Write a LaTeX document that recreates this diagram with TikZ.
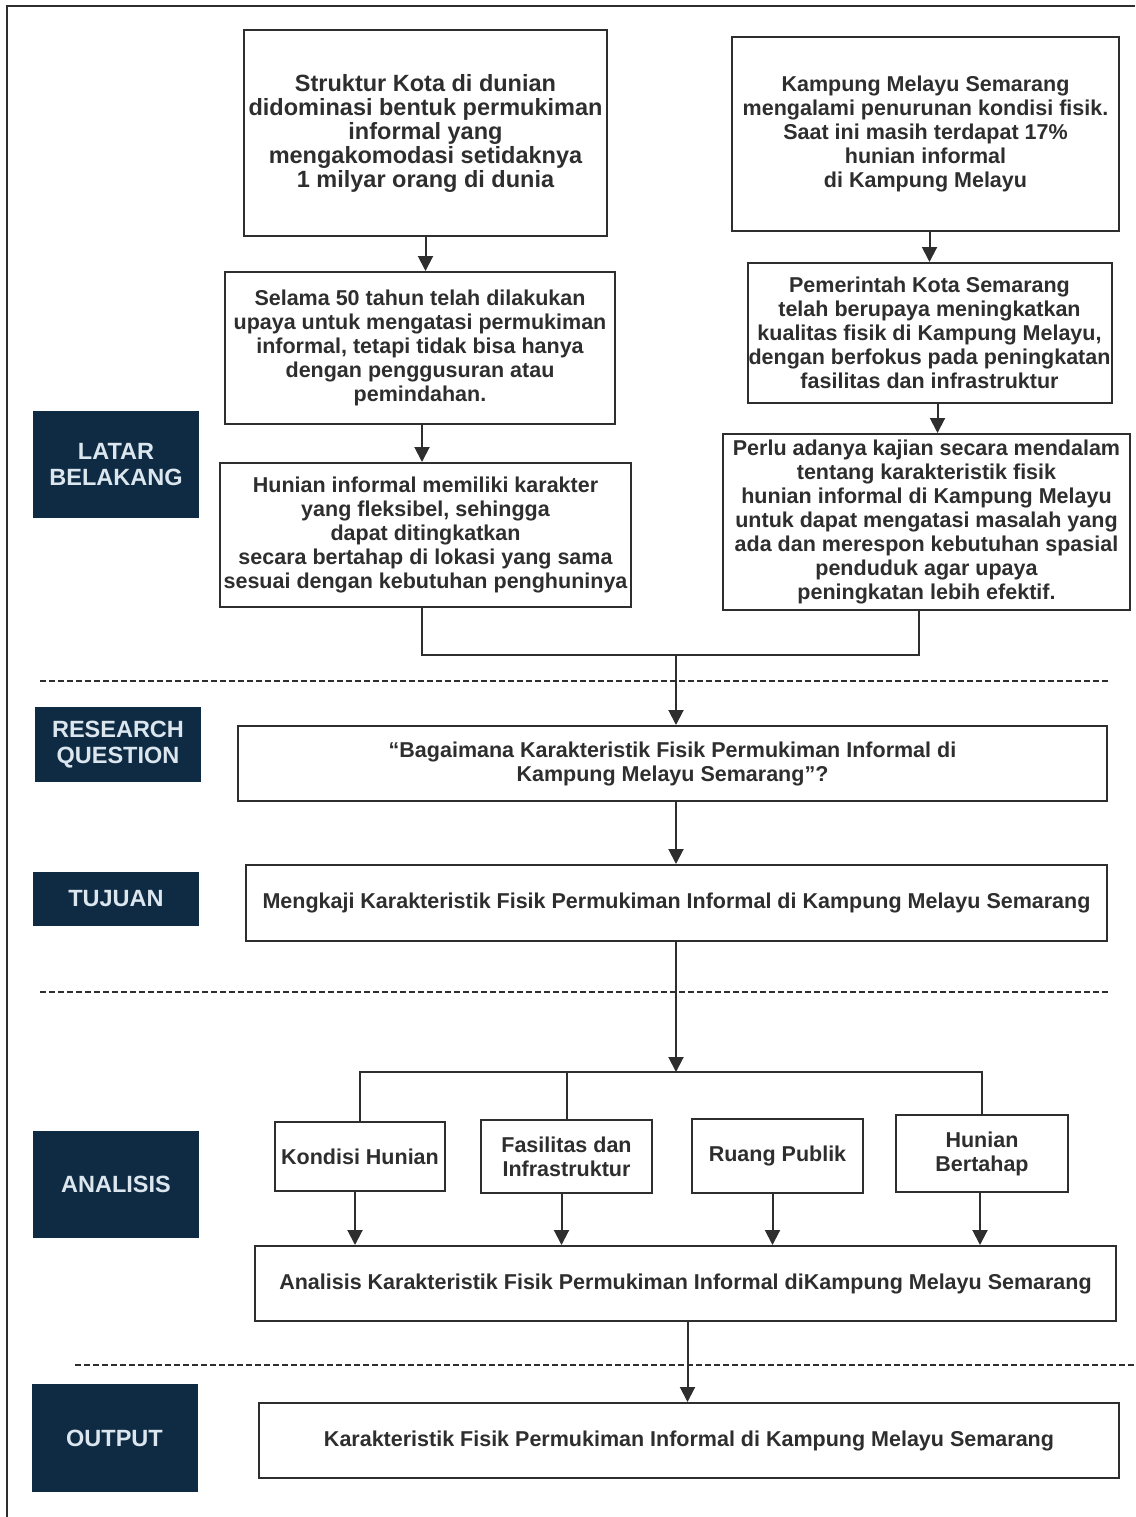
\documentclass[tikz,border=0pt]{standalone}
\usepackage{fontspec}
\setmainfont{Liberation Sans}
\usetikzlibrary{arrows.meta}

\definecolor{navy}{HTML}{0E2B43}
\definecolor{pale}{HTML}{DCE6EE}
\definecolor{ink}{HTML}{2E2E2E}

\begin{document}
\begin{tikzpicture}[x=1pt, y=-1pt, >={Triangle[length=15pt, width=15pt]}, line width=2pt,
  box/.style={draw=ink, line width=2pt, text=ink, align=center, inner sep=1pt,
    font=\bfseries\fontsize{21.5}{24}\selectfont},
  tag/.style={fill=navy, text=pale, align=center, minimum width=166pt,
    font=\bfseries\fontsize{23.5}{26}\selectfont},
  sep/.style={ink, line width=2pt, dash pattern=on 6pt off 3pt},
  link/.style={ink, line width=2pt}]
  \useasboundingbox (0,0) rectangle (1135,1517);
  % bingkai luar (terpotong)
  \draw[ink, line width=2pt] (7,1517) -- (7,6) -- (1135,6);

  % latar belakang
  \node[box, minimum width=363pt, minimum height=206pt, font=\bfseries\fontsize{23.5}{24}\selectfont] (kota) at (425.5,133)
    {Struktur Kota di dunian\\didominasi bentuk permukiman\\informal yang\\mengakomodasi setidaknya\\1 milyar orang di dunia};
  \node[box, minimum width=387pt, minimum height=194pt] (kampung) at (925.5,134)
    {Kampung Melayu Semarang\\mengalami penurunan kondisi fisik.\\Saat ini masih terdapat 17\%\\hunian informal\\di Kampung Melayu};
  \node[box, minimum width=390pt, minimum height=152pt] (upaya) at (420,348)
    {Selama 50 tahun telah dilakukan\\upaya untuk mengatasi permukiman\\informal, tetapi tidak bisa hanya\\dengan penggusuran atau\\pemindahan.};
  \node[box, minimum width=363pt, minimum height=140pt] (pemkot) at (929.5,333)
    {Pemerintah Kota Semarang\\telah berupaya meningkatkan\\kualitas fisik di Kampung Melayu,\\dengan berfokus pada peningkatan\\fasilitas dan infrastruktur};
  \node[box, minimum width=411pt, minimum height=144pt] (fleksibel) at (425.5,535)
    {Hunian informal memiliki karakter\\yang fleksibel, sehingga\\dapat ditingkatkan\\secara bertahap di lokasi yang sama\\sesuai dengan kebutuhan penghuninya};
  \node[box, minimum width=407pt, minimum height=176pt] (kajian) at (926.5,522)
    {Perlu adanya kajian secara mendalam\\tentang karakteristik fisik\\hunian informal di Kampung Melayu\\untuk dapat mengatasi masalah yang\\ada dan merespon kebutuhan spasial\\penduduk agar upaya\\peningkatan lebih efektif.};
  \draw[link, ->] (kota.south) -- (kota.south |- upaya.north);
  \draw[link, ->] (pemkot.north |- kampung.south) -- (pemkot.north);
  \draw[link, ->] ([xshift=2pt]upaya.south) -- ([xshift=2pt]upaya.south |- fleksibel.north);
  \draw[link, ->] ([xshift=8pt]pemkot.south) -- ([xshift=8pt]pemkot.south |- kajian.north);
  \coordinate (gabung) at (676,655);
  \draw[link] ([xshift=-4pt]fleksibel.south) |- (gabung) -| ([xshift=-8pt]kajian.south);

  % pertanyaan dan tujuan
  \node[box, minimum width=869pt, minimum height=75pt] (tanya) at (672.5,763.5)
    {``Bagaimana Karakteristik Fisik Permukiman Informal di\\Kampung Melayu Semarang''?};
  \node[box, minimum width=861pt, minimum height=76pt] (tujuan) at (676.5,903)
    {Mengkaji Karakteristik Fisik Permukiman Informal di Kampung Melayu Semarang};
  \draw[link, ->] (gabung) -- (gabung |- tanya.north);
  \draw[link, ->] (gabung |- tanya.south) -- (gabung |- tujuan.north);

  % analisis
  \coordinate (cabang) at (676,1072);
  \node[box, minimum width=170pt, minimum height=69pt] (kondisi) at (360,1156.5) {Kondisi Hunian};
  \node[box, minimum width=171pt, minimum height=73pt] (fasilitas) at (566.5,1156.5) {Fasilitas dan\\Infrastruktur};
  \node[box, minimum width=171pt, minimum height=74pt] (ruang) at (777.5,1156) {Ruang Publik};
  \node[box, minimum width=172pt, minimum height=77pt] (bertahap) at (982,1153.5) {Hunian\\Bertahap};
  \node[box, minimum width=861pt, minimum height=75pt] (analisis) at (685.5,1283.5)
    {Analisis Karakteristik Fisik Permukiman Informal diKampung Melayu Semarang};
  \draw[link, ->] (cabang |- tujuan.south) -- (cabang);
  \draw[link] (kondisi.north) |- (cabang) -| (bertahap.north);
  \draw[link] (fasilitas.north) -- (fasilitas.north |- cabang);
  \foreach \n in {kondisi, fasilitas, ruang}
    \draw[link, ->] ([xshift=-5pt]\n.south) -- ([xshift=-5pt]\n.south |- analisis.north);
  \draw[link, ->] ([xshift=-2pt]bertahap.south) -- ([xshift=-2pt]bertahap.south |- analisis.north);

  % output
  \node[box, minimum width=860pt, minimum height=75pt] (hasil) at (689,1440.5)
    {Karakteristik Fisik Permukiman Informal di Kampung Melayu Semarang};
  \draw[link, ->] ([xshift=2pt]analisis.south) -- ([xshift=2pt]analisis.south |- hasil.north);

  % label kiri
  \node[tag, minimum height=107pt] (latar) at (116,464.5) {LATAR\\BELAKANG};
  \node[tag, minimum height=75pt] (rq) at (118,744.5) {RESEARCH\\QUESTION};
  \node[tag, minimum height=54pt] (tuj) at (116,899) {TUJUAN};
  \node[tag, minimum height=107pt] (anl) at (116,1184.5) {ANALISIS};
  \node[tag, minimum height=108pt] (out) at (114.5,1438) {OUTPUT};

  % garis pemisah
  \draw[sep] (40,681) -- (1108,681);
  \draw[sep] (40,992) -- (1110,992);
  \draw[sep] (75,1365) -- (1135,1365);
\end{tikzpicture}
\end{document}
